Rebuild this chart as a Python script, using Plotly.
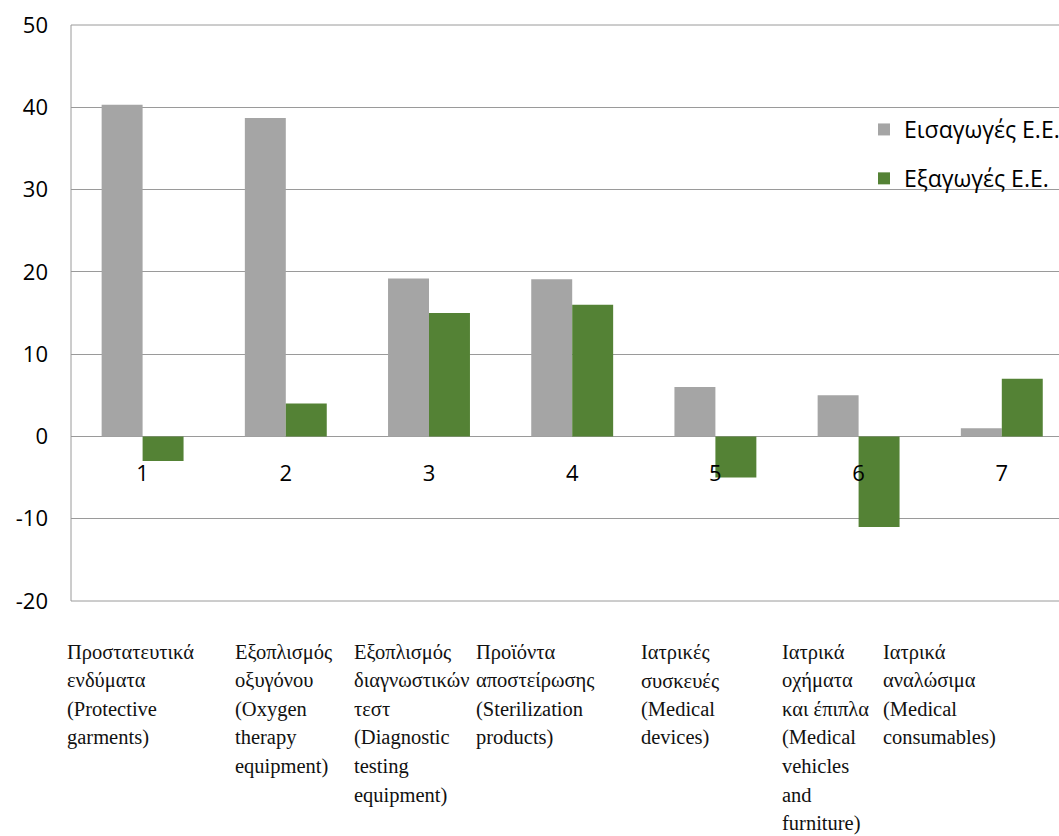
import plotly.graph_objects as go

categories = ["1", "2", "3", "4", "5", "6", "7"]
imports_eu = [40.3, 38.7, 19.2, 19.1, 6.0, 5.0, 1.0]
exports_eu = [-3.0, 4.0, 15.0, 16.0, -5.0, -11.0, 7.0]
series_names = ["Εισαγωγές Ε.Ε.", "Εξαγωγές Ε.Ε."]
y_ticks = [-20, -10, 0, 10, 20, 30, 40, 50]
y_tick_labels = ["-20", "-10", "0", "10", "20", "30", "40", "50"]

descriptions = [
    ["Προστατευτικά", "ενδύματα", "(Protective", "garments)"],
    ["Εξοπλισμός", "οξυγόνου", "(Oxygen", "therapy", "equipment)"],
    ["Εξοπλισμός", "διαγνωστικών", "τεστ", "(Diagnostic", "testing", "equipment)"],
    ["Προϊόντα", "αποστείρωσης", "(Sterilization", "products)"],
    ["Ιατρικές", "συσκευές", "(Medical", "devices)"],
    ["Ιατρικά", "οχήματα", "και έπιπλα", "(Medical", "vehicles", "and", "furniture)"],
    ["Ιατρικά", "αναλώσιμα", "(Medical", "consumables)"],
]

W, H = 1059, 836
L, T, B = 71, 25, 235
PW = W - L
PH = H - T - B
ymin, ymax = y_ticks[0], y_ticks[-1]
cat_px = 143.2
x_end = -0.5 + PW / cat_px

GRID = "#9a9a9a"
SANS = "Open Sans"

fig = go.Figure()
fig.add_trace(go.Bar(x=categories, y=imports_eu, name=series_names[0],
                     marker=dict(color="#a5a5a5", line=dict(width=0)),
                     legendgroup="a"))
fig.add_trace(go.Bar(x=categories, y=exports_eu, name=series_names[1],
                     marker=dict(color="#548235", line=dict(width=0)),
                     legendgroup="b"))

def px_to_py(py):
    return (H - B - py) / PH

def px_to_px(px):
    return (px - L) / PW

annotations = []
col_left = [65, 233, 352, 474, 639, 780, 881]
line0, pitch = 652, 28.6
for ci, lines in enumerate(descriptions):
    for li, txt in enumerate(lines):
        annotations.append(dict(
            text=txt, xref="paper", yref="paper",
            x=px_to_px(col_left[ci]), y=px_to_py(line0 + li * pitch),
            xanchor="left", yanchor="middle", showarrow=False,
            font=dict(family="Liberation Serif", size=20.5, color="#111111"),
        ))

fig.update_layout(
    width=W, height=H,
    margin=dict(l=L, r=0, t=T, b=B, autoexpand=False),
    paper_bgcolor="white", plot_bgcolor="white",
    barmode="group", bargap=0.428, bargroupgap=0,
    font=dict(family=SANS, size=22, color="#000000"),
    xaxis=dict(type="category", range=[-0.5, x_end], showgrid=False,
               showline=False, zeroline=False, ticks="",
               anchor="free", position=(0 - ymin) / (ymax - ymin),
               ticklabelstandoff=22,
               tickfont=dict(family=SANS, size=22, color="#000000")),
    yaxis=dict(range=[ymin, ymax], tickvals=y_ticks, ticktext=y_tick_labels,
               showgrid=True,
               gridcolor=GRID, gridwidth=1, zeroline=True, zerolinecolor=GRID,
               zerolinewidth=1, showline=False, ticks="",
               ticklabelstandoff=22,
               tickfont=dict(family=SANS, size=22, color="#000000")),
    legend=dict(x=px_to_px(864), y=px_to_py(108), xanchor="left", yanchor="top",
                bgcolor="rgba(0,0,0,0)", borderwidth=0, traceorder="grouped",
                tracegroupgap=16, itemwidth=30,
                font=dict(family=SANS, size=23, color="#000000")),
    showlegend=True,
    annotations=annotations,
    shapes=[dict(type="rect", xref="paper", yref="paper", x0=0, x1=1.05, y0=0, y1=1,
                 line=dict(color=GRID, width=1), fillcolor="rgba(0,0,0,0)", layer="below")],
)

fig.write_html("out.html", config={"displayModeBar": False},
               post_script="document.body.style.margin='0px';document.body.style.overflow='hidden';")
